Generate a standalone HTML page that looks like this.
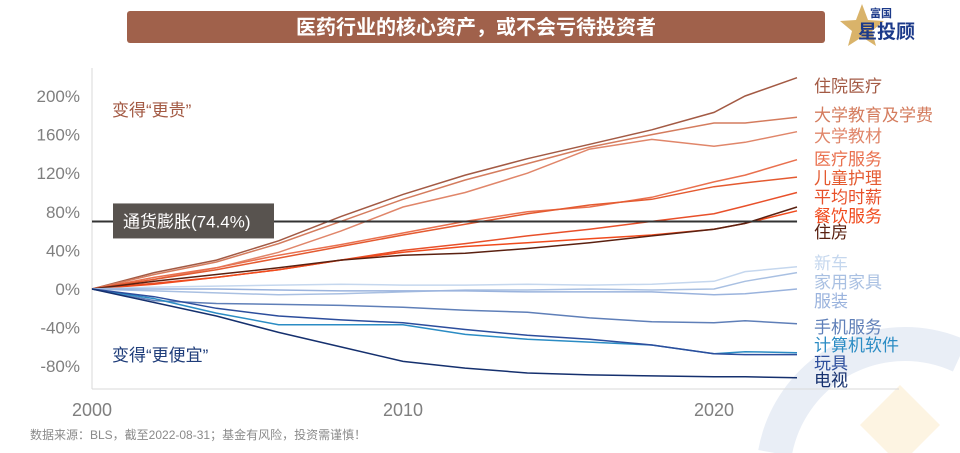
<!DOCTYPE html>
<html><head><meta charset="utf-8"><style>
html,body{margin:0;padding:0;width:960px;height:453px;overflow:hidden;background:#fff;font-family:"Liberation Sans","Noto Sans CJK SC",sans-serif;}
svg{display:block;}
</style></head><body>
<svg id="c" width="960" height="453" viewBox="0 0 960 453" xmlns="http://www.w3.org/2000/svg" style="font-family:'Liberation Sans','Noto Sans CJK SC',sans-serif">
<g>
<path d="M775,453 A132,132 0 0 1 960,356" fill="none" stroke="#e9eef6" stroke-width="34"/>
<polygon points="900,385 940,425 912,453 888,453 860,425" fill="#fdf4e2"/>
</g>
<rect x="127" y="11" width="698" height="32" rx="3" fill="#a0614b"/>
<text x="476" y="34" text-anchor="middle" fill="#fff" font-size="20" font-weight="bold">医药行业的核心资产，或不会亏待投资者</text>
<g>
<polygon points="862,4 868,20 884,21 872,31 876,46 862,37 848,46 852,31 840,21 856,20" fill="#d9b36a"/>
<text x="870" y="17" font-size="11" font-weight="bold" fill="#1c3a8a">富国</text>
<text x="858" y="38" font-size="19" font-weight="bold" fill="#1c3a8a">星投顾</text>
</g>
<line x1="92" y1="68" x2="92" y2="389" stroke="#d9d9d9"/>
<line x1="92" y1="389" x2="899" y2="389" stroke="#d9d9d9"/>
<g id="yt"></g><g id="xt"></g><g id="series"></g><g id="labels"></g>
<text x="112" y="116" font-size="17" fill="#a35a44">变得“更贵”</text>
<text x="112" y="361" font-size="17" fill="#1f3d7a">变得“更便宜”</text>
<text x="30" y="439" font-size="12" fill="#8a8a8a">数据来源：BLS，截至2022-08-31；基金有风险，投资需谨慎！</text>
</svg>
<script>
const years=[2000,2002,2004,2006,2008,2010,2012,2014,2016,2018,2020,2021,2022.67];
const seriesNames=["住院医疗","大学教育及学费","大学教材","医疗服务","儿童护理","平均时薪","餐饮服务","住房","新车","家用家具","服装","手机服务","计算机软件","玩具","电视"];
const hospital=[0,17,30,50,75,98,118,135,150,165,183,200,219];
const tuition=[0,15,28,47,70,93,113,130,147,160,172,172,178];
const textbooks=[0,10,22,38,60,85,100,120,145,155,148,152,163];
const medical=[0,12,22,35,46,58,70,80,85,95,111,118,134];
const childcare=[0,10,20,32,44,56,67,78,87,93,106,110,116];
const wage=[0,6,12,20,30,40,47,55,62,70,78,86,100];
const food=[0,5,12,20,30,38,44,48,52,56,62,68,81];
const housing=[0,8,15,22,30,35,37,42,48,55,62,68,85];
const cars=[0,2,3,4,5,4,4,5,4,5,8,18,23];
const furniture=[0,-2,-4,-6,-5,-3,-1,-1,0,-1,0,8,17];
const apparel=[0,0,0,-1,-2,-2,-2,-3,-3,-3,-6,-5,0];
const phone=[0,-12,-15,-16,-17,-19,-22,-24,-30,-34,-35,-33,-36];
const software=[0,-10,-25,-37,-37,-37,-47,-52,-55,-58,-67,-65,-66];
const toys=[0,-8,-20,-28,-32,-35,-42,-48,-52,-58,-67,-68,-68];
const tv=[0,-14,-28,-45,-60,-75,-82,-87,-89,-90,-91,-91,-92];
const inflation=70;
const yTicks=[200,160,120,80,40,0,-40,-80];
const xTicks=[2000,2010,2020];
const allSeries=[hospital,tuition,textbooks,medical,childcare,wage,food,housing,cars,furniture,apparel,phone,software,toys,tv];
const colors=["#a35a44","#d47c5e","#e0866a","#e9704e","#e45a30","#e8502a","#f04a1c","#5a2010","#c5d7ee","#a9c0e2","#9ab3dd","#5f7fb8","#2b8cc4","#2c4d9c","#15306e"];
const labelY=[86,115,136,159,178,197,216,232,263,282,301,327,345,363,380];
const NS="http://www.w3.org/2000/svg";
function X(yr){return 92+(yr-2000)*31.1;}
function Y(v){return 289-v*0.965;}
function mk(t,a,p){const e=document.createElementNS(NS,t);for(const k in a)e.setAttribute(k,a[k]);document.getElementById(p).appendChild(e);return e;}
yTicks.forEach(v=>{const t=mk('text',{x:80,y:Y(v)+6,'text-anchor':'end','font-size':17,fill:'#7f7f7f'},'yt');t.textContent=v+'%';

});
xTicks.forEach(v=>{const t=mk('text',{x:X(v),y:416,'text-anchor':'middle','font-size':18,fill:'#7f7f7f'},'xt');t.textContent=v;

});
allSeries.forEach((s,i)=>{const d=s.map((v,j)=>(j?'L':'M')+X(years[j]).toFixed(1)+','+Y(v).toFixed(1)).join('');
const p=mk('path',{d:d,fill:'none',stroke:colors[i],'stroke-width':1.5},'series');


const t=mk('text',{x:814,y:labelY[i]+6,'font-size':17,fill:colors[i]},'labels');t.textContent=seriesNames[i];

});
const il=mk('line',{x1:92,x2:X(2022.67),y1:Y(inflation),y2:Y(inflation),stroke:'#333','stroke-width':2},'series');


const ib=mk('rect',{x:113,y:Y(inflation)-18,width:161,height:35,fill:'#58534f'},'series');


const it=mk('text',{x:123,y:Y(inflation)+6,'font-size':17,fill:'#fff'},'series');it.textContent='通货膨胀(74.4%)';


</script>
</body></html>
